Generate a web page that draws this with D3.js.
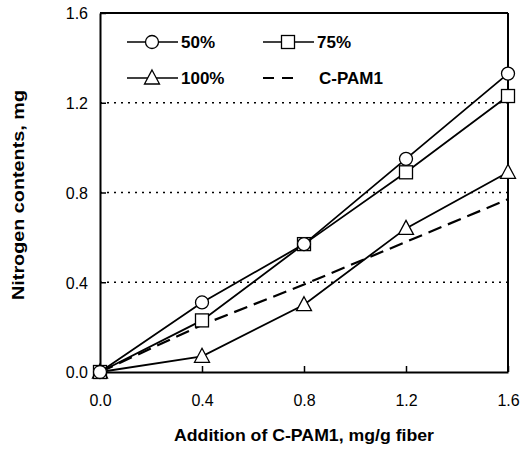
<!DOCTYPE html>
<html>
<head>
<meta charset="utf-8">
<script src="https://cdn.jsdelivr.net/npm/d3@7"></script>
<style>
  body { margin: 0; background: #fff; }
  svg text { font-family: "Liberation Sans", Arial, sans-serif; fill: #000; }
</style>
</head>
<body>
<svg id="chart" width="523" height="450"></svg>
<script>
// data
const additions = [0.0, 0.4, 0.8, 1.2, 1.6];
const series50 = [0.0, 0.31, 0.57, 0.95, 1.33];
const series75 = [0.0, 0.23, 0.57, 0.89, 1.23];
const series100 = [0.0, 0.07, 0.30, 0.64, 0.89];
const seriesCPAM1 = [0.0, 0.21, 0.39, 0.58, 0.77];
const xTicks = [0.0, 0.4, 0.8, 1.2, 1.6];
const yTicks = [0.0, 0.4, 0.8, 1.2, 1.6];
const gridValues = [0.4, 0.8, 1.2];
const legendLabels = ["50%", "75%", "100%", "C-PAM1"];

let svg = d3.select("#chart");
let plotLeft = 100, plotRight = 508, plotTop = 13, plotBottom = 372;

let xScale = d3.scaleLinear().domain([0, 1.6]).range([plotLeft, plotRight]);
let yScale = d3.scaleLinear().domain([0, 1.6]).range([plotBottom, plotTop]);

// dotted grid
svg.append("g").selectAll("line")
   .data(gridValues)
   .enter().append("line")
   .attr("x1", plotLeft).attr("x2", plotRight)
   .attr("y1", d => yScale(d)).attr("y2", d => yScale(d))
   .attr("stroke", "#000")
   .attr("stroke-width", 1.4)
   .attr("stroke-dasharray", "2,5");

// frame: top and right
svg.append("line")
   .attr("x1", plotLeft).attr("x2", plotRight)
   .attr("y1", plotTop).attr("y2", plotTop)
   .attr("stroke", "#000").attr("stroke-width", 2);
svg.append("line")
   .attr("x1", plotRight).attr("x2", plotRight)
   .attr("y1", plotTop).attr("y2", plotBottom)
   .attr("stroke", "#000").attr("stroke-width", 2);

// axes, ticks pointing inward
let xAxis = d3.axisBottom(xScale).tickValues(xTicks)
              .tickFormat(d3.format(".1f"))
              .tickSizeInner(-6).tickSizeOuter(0).tickPadding(23);
let gx = svg.append("g")
   .attr("transform", "translate(0," + plotBottom + ")")
   .call(xAxis);

let yAxis = d3.axisLeft(yScale).tickValues(yTicks)
              .tickFormat(d3.format(".1f"))
              .tickSizeInner(-6).tickSizeOuter(0).tickPadding(12);
let gy = svg.append("g")
   .attr("transform", "translate(" + plotLeft + ",0)")
   .call(yAxis);

[gx, gy].forEach(g => {
    g.select(".domain").attr("stroke", "#000").attr("stroke-width", 2);
    g.selectAll(".tick line").attr("stroke", "#000").attr("stroke-width", 1.5);
    g.selectAll(".tick text")
     .style("font-family", "'Liberation Sans', Arial, sans-serif")
     .style("font-size", "16px")
     .attr("fill", "#000");
});
gy.selectAll(".tick text").attr("dy", "0.36em");

// axis titles
svg.append("text")
   .attr("x", (plotLeft + plotRight) / 2)
   .attr("y", 441)
   .attr("text-anchor", "middle")
   .style("font-size", "17px")
   .style("font-weight", "bold")
   .attr("textLength", 260)
   .attr("lengthAdjust", "spacingAndGlyphs")
   .text("Addition of C-PAM1, mg/g fiber");

svg.append("text")
   .attr("transform", "translate(24,195) rotate(-90)")
   .attr("text-anchor", "middle")
   .style("font-size", "17px")
   .style("font-weight", "bold")
   .attr("textLength", 210)
   .attr("lengthAdjust", "spacingAndGlyphs")
   .text("Nitrogen contents, mg");

// markers
function circleMark(g, cx, cy) {
    g.append("circle").attr("cx", cx).attr("cy", cy).attr("r", 6.5)
     .attr("fill", "#fff").attr("stroke", "#000").attr("stroke-width", 1.3);
}
function squareMark(g, cx, cy) {
    g.append("rect").attr("x", cx - 6.5).attr("y", cy - 6.5)
     .attr("width", 13).attr("height", 13)
     .attr("fill", "#fff").attr("stroke", "#000").attr("stroke-width", 1.3);
}
function triangleMark(g, cx, cy) {
    g.append("path")
     .attr("d", "M" + cx + "," + (cy - 8) + "L" + (cx + 7.5) + "," + (cy + 6) +
                "L" + (cx - 7.5) + "," + (cy + 6) + "Z")
     .attr("fill", "#fff").attr("stroke", "#000").attr("stroke-width", 1.3);
}

let line = d3.line()
    .x(d => xScale(d[0]))
    .y(d => yScale(d[1]));

let plotted = [
    {values: series100, marker: triangleMark},
    {values: series75, marker: squareMark},
    {values: series50, marker: circleMark}
];

// dashed C-PAM1 line (no markers)
svg.append("path")
   .datum(additions.map((a, i) => [a, seriesCPAM1[i]]))
   .attr("d", line)
   .attr("fill", "none")
   .attr("stroke", "#000")
   .attr("stroke-width", 2.2)
   .attr("stroke-dasharray", "14,7");

plotted.forEach(s => {
    let pts = additions.map((a, i) => [a, s.values[i]]);
    svg.append("path")
       .datum(pts)
       .attr("d", line)
       .attr("fill", "none")
       .attr("stroke", "#000")
       .attr("stroke-width", 1.8);
    let mg = svg.append("g");
    pts.forEach(p => s.marker(mg, xScale(p[0]), yScale(p[1])));
});

// legend
let legend = svg.append("g");
let legendItems = [
    {label: legendLabels[0], x: 127, y: 42, marker: circleMark},
    {label: legendLabels[1], x: 263, y: 42, marker: squareMark},
    {label: legendLabels[2], x: 127, y: 78, marker: triangleMark},
    {label: legendLabels[3], x: 263, y: 78, marker: null}
];
legendItems.forEach(item => {
    if (item.marker) {
        legend.append("line")
              .attr("x1", item.x).attr("x2", item.x + 51)
              .attr("y1", item.y).attr("y2", item.y)
              .attr("stroke", "#000").attr("stroke-width", 1.6);
        item.marker(legend, item.x + 25, item.y);
    } else {
        legend.append("line")
              .attr("x1", item.x).attr("x2", item.x + 32)
              .attr("y1", item.y).attr("y2", item.y)
              .attr("stroke", "#000").attr("stroke-width", 1.8)
              .attr("stroke-dasharray", "11,8");
    }
    legend.append("text")
          .attr("x", item.marker ? item.x + 54 : item.x + 56)
          .attr("y", item.y + 6)
          .style("font-size", "17px")
          .style("font-weight", "bold")
          .text(item.label);
});
</script>
</body>
</html>
